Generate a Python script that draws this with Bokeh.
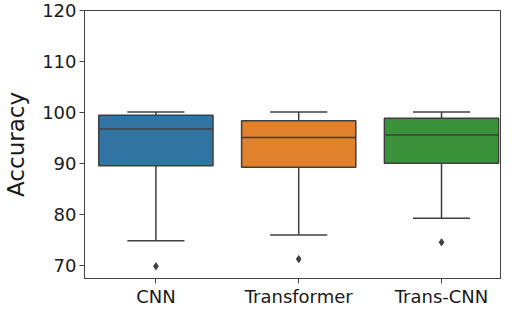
from bokeh.plotting import figure
from bokeh.models import Range1d, FixedTicker, ColumnDataSource
from bokeh.embed import file_html
from bokeh.resources import INLINE

models = ["CNN", "Transformer", "Trans-CNN"]
q1 = [89.6, 89.3, 90.1]
median = [96.8, 95.1, 95.6]
q3 = [99.5, 98.4, 98.9]
whisker_low = [74.9, 76.0, 79.3]
whisker_high = [100.1, 100.1, 100.1]
outliers = [69.9, 71.3, 74.6]
colors = ["#3274a1", "#e1812c", "#3a923a"]
yticks = [70, 80, 90, 100, 110, 120]

pos = list(range(len(models)))
gray = "#3f3f3f"
font = "DejaVu Sans"

src = ColumnDataSource(dict(
    x=pos, q1=q1, q2=median, q3=q3, lo=whisker_low, hi=whisker_high,
    out=outliers, color=colors,
    bl=[p - 0.4 for p in pos], br=[p + 0.4 for p in pos],
    cl=[p - 0.2 for p in pos], cr=[p + 0.2 for p in pos],
))

p = figure(width=501, height=309, output_backend="svg", toolbar_location=None,
           x_range=Range1d(-0.5, 2.42), y_range=Range1d(67.5, 120),
           min_border_left=78, min_border_right=0, min_border_top=10,
           min_border_bottom=20)

p.xgrid.visible = False
p.ygrid.visible = False
p.outline_line_color = "#444444"
p.outline_line_width = 1
p.background_fill_color = "white"
p.border_fill_color = "white"

# whiskers
p.segment(x0="x", y0="q3", x1="x", y1="hi", source=src, line_color=gray, line_width=1.5)
p.segment(x0="x", y0="q1", x1="x", y1="lo", source=src, line_color=gray, line_width=1.5)
# caps
p.segment(x0="cl", y0="hi", x1="cr", y1="hi", source=src, line_color=gray, line_width=1.5)
p.segment(x0="cl", y0="lo", x1="cr", y1="lo", source=src, line_color=gray, line_width=1.5)
# boxes
p.quad(left="bl", right="br", bottom="q1", top="q3", source=src,
       fill_color="color", line_color=gray, line_width=1.5)
# medians
p.segment(x0="bl", y0="q2", x1="br", y1="q2", source=src, line_color=gray, line_width=1.5)
# outliers
p.scatter(x="x", y="out", source=src, marker="diamond", size=7,
          fill_color=gray, line_color=gray)

p.xaxis.ticker = FixedTicker(ticks=pos)
p.xaxis.major_label_overrides = {i: m for i, m in enumerate(models)}
p.yaxis.ticker = FixedTicker(ticks=yticks)

for ax in (p.xaxis[0], p.yaxis[0]):
    ax.axis_line_color = "#444444"
    ax.major_tick_line_color = "#444444"
    ax.major_tick_out = 5
    ax.major_tick_in = 0
    ax.minor_tick_line_color = None
    ax.major_label_text_font = font
    ax.major_label_text_font_size = "18px"
    ax.major_label_text_color = "#1a1a1a"
    ax.major_label_standoff = 3

p.xaxis.major_label_standoff = 2

p.yaxis.axis_label = "Accuracy"
p.yaxis.axis_label_text_font = font
p.yaxis.axis_label_text_font_size = "23px"
p.yaxis.axis_label_text_font_style = "normal"
p.yaxis.axis_label_text_color = "#1a1a1a"
p.yaxis.axis_label_standoff = 10

open("out.html", "w").write(file_html(p, INLINE))
